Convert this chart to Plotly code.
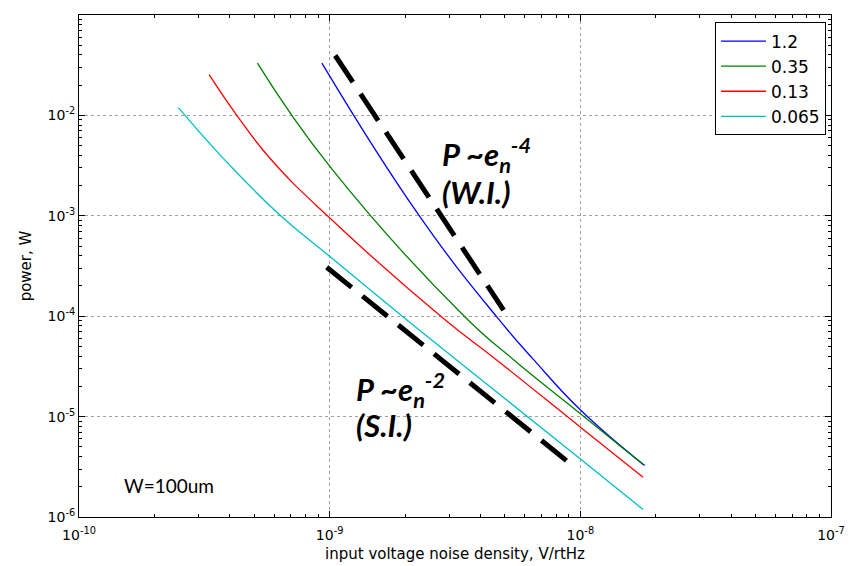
import plotly.graph_objects as go

# ---- data ----
series_names = ["1.2", "0.35", "0.13", "0.065"]
series_colors = ["#0000FF", "#008000", "#FF0000", "#00BFBF"]

x_12 = [9.31e-10, 2.283e-9, 4.651e-9, 6.511e-9, 1.0065e-8, 1.806e-8]
y_12 = [3.319e-2, 9.93e-4, 9.77e-5, 3.69e-5, 1.148e-5, 3.25e-6]

x_035 = [5.150e-10, 1.005e-9, 3.475e-9, 5.415e-9, 1.0065e-8, 1.7795e-8]
y_035 = [3.319e-2, 3.069e-3, 9.77e-5, 3.69e-5, 1.057e-5, 3.327e-6]

x_013 = [3.304e-10, 4.262e-10, 5.79e-10, 9.89e-10, 2.805e-9, 4.621e-9, 1.0065e-8, 1.7795e-8]
y_013 = [2.547e-2, 1.002e-2, 3.72e-3, 9.77e-4, 9.77e-5, 3.69e-5, 7.76e-6, 2.489e-6]

x_0065 = [2.491e-10, 4.006e-10, 6.445e-10, 1.005e-9, 1.971e-9, 3.199e-9, 1.0065e-8, 1.7795e-8]
y_0065 = [1.197e-2, 3.16e-3, 9.77e-4, 3.908e-4, 9.77e-5, 3.69e-5, 3.733e-6, 1.189e-6]

xs = [x_12, x_035, x_013, x_0065]
ys = [y_12, y_035, y_013, y_0065]

# guide lines
wi_x = [1.052e-9, 4.94e-9]
wi_y = [3.95e-2, 1.15e-4]
si_x = [9.73e-10, 9.46e-9]
si_y = [3.07e-4, 3.15e-6]

x_decades = [-10, -9, -8, -7]
y_decades = [-6, -5, -4, -3, -2, -1]
x_ticktext = ["10<sup>%d</sup>" % d for d in x_decades]
y_ticktext = ["10<sup>%d</sup>" % d for d in y_decades]
x_minor = [k * 10.0 ** d for d in x_decades[:-1] for k in range(2, 10)]
y_minor = [k * 10.0 ** d for d in y_decades[:-1] for k in range(2, 10)]

# page offsets (body margin of the html page is 8px)
OFF = 8
L, R, T, B = 79, 831, 14.5, 517.5   # plot area in page pixels

fig = go.Figure()
for name, color, x, y in zip(series_names, series_colors, xs, ys):
    fig.add_trace(go.Scatter(x=x, y=y, mode="lines", name=name, legendgroup=name,
                             line=dict(color=color, width=1.3, shape="spline", smoothing=1.3)))

for gx, gy in [(wi_x, wi_y), (si_x, si_y)]:
    fig.add_trace(go.Scatter(x=gx, y=gy, mode="lines", showlegend=False,
                             line=dict(color="black", width=5, dash="32px,14px")))

ann_font = dict(family="Lato, Open Sans, sans-serif", size=31, color="black")
def px2paper(px, py):
    return (px - L) / (R - L), (B - py) / (B - T)

def add_label(px, py, text, font=ann_font):
    x, y = px2paper(px, py)
    fig.add_annotation(x=x, y=y, xref="paper", yref="paper",
                       text=text, showarrow=False, xanchor="left", yanchor="middle", font=font)

add_label(440, 155, "<b><i>P&nbsp;~e<sub>n</sub><sup>-4</sup></i></b>")
add_label(440, 192, "<b><i>(W.I.)</i></b>")
add_label(354, 390, "<b><i>P&nbsp;~e<sub>n</sub><sup>-2</sup></i></b>")
add_label(354, 425, "<b><i>(S.I.)</i></b>")
add_label(122, 486, "W=100um", dict(family="Lato, Open Sans, sans-serif", size=19, color="black"))

axis_common = dict(type="log", showline=True, linecolor="black", linewidth=1, mirror="allticks",
                   ticks="inside", ticklen=6, tickcolor="black", tickmode="array",
                   showgrid=True, gridcolor="#a0a0a0", griddash="dot", gridwidth=1,
                   zeroline=False, automargin=False,
                   tickfont=dict(family="DejaVu Sans", size=14, color="black"))

fig.update_xaxes(**axis_common, range=[-10, -7], ticklabelstandoff=5,
                 tickvals=[10.0 ** d for d in x_decades], ticktext=x_ticktext,
                 minor=dict(tickmode="array", tickvals=x_minor, ticks="inside", ticklen=3,
                            tickcolor="black", showgrid=False),
                 title=dict(text="input voltage noise density, V/rtHz",
                            font=dict(family="DejaVu Sans", size=15, color="black"), standoff=6))
fig.update_yaxes(**axis_common, range=[-6, -1],
                 tickvals=[10.0 ** d for d in y_decades], ticktext=y_ticktext,
                 minor=dict(tickmode="array", tickvals=y_minor, ticks="inside", ticklen=3,
                            tickcolor="black", showgrid=False),
                 title=dict(text="power, W",
                            font=dict(family="DejaVu Sans", size=15, color="black"), standoff=12))

W, H = 858, 566
fig.update_layout(
    width=W, height=H,
    margin=dict(l=L - OFF, r=W + OFF - R, t=T - OFF, b=H + OFF - B, autoexpand=False),
    paper_bgcolor="white", plot_bgcolor="white",
    legend=dict(x=(826 - L) / (R - L), y=(B - 22) / (B - T), xanchor="right", yanchor="top",
                bgcolor="white", bordercolor="black", borderwidth=1,
                itemwidth=45, tracegroupgap=0,
                font=dict(family="DejaVu Sans", size=17, color="black")),
)

fig.write_html("out.html")
